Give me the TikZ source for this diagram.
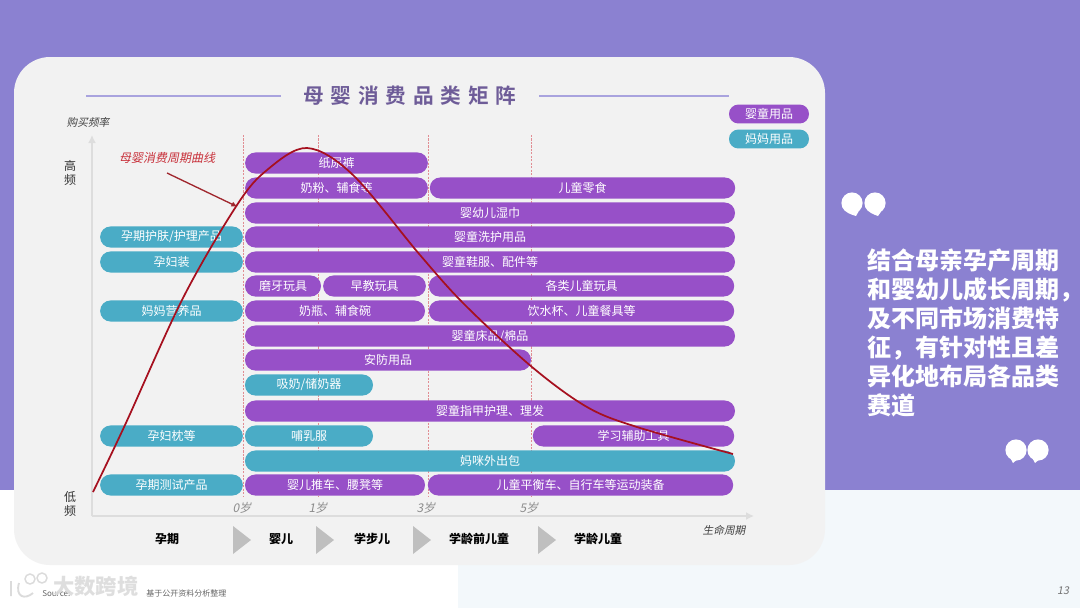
\documentclass[tikz,border=0pt]{standalone}
\usepackage{fontspec}
\usetikzlibrary{arrows.meta}
\setmainfont{Noto Sans CJK SC}
\newfontfamily\slantfont[FakeSlant=0.2]{Noto Sans CJK SC}
\newfontfamily\titlefont[LetterSpace=33,BoldFont={* Bold}]{Noto Sans CJK SC}
\definecolor{slidepurple}{HTML}{8B81D1}
\definecolor{slidepale}{HTML}{F3F8FB}
\definecolor{cardgrey}{HTML}{F2F2F2}
\definecolor{babypurple}{HTML}{9750C8}
\definecolor{mumteal}{HTML}{4AACC6}
\definecolor{curvered}{HTML}{A6101F}
\definecolor{labelred}{HTML}{C8303A}
\definecolor{ruleblue}{HTML}{A9A3DE}
\definecolor{titleink}{HTML}{6E5C98}
\definecolor{axisgrey}{HTML}{DDDDDD}
\definecolor{stagegrey}{HTML}{BFBFBF}
\tikzset{
  bar/.style={rounded corners=7.8pt,draw=none,text=white,font=\fontsize{9}{9}\selectfont,
    minimum height=15.8pt,inner sep=0pt,anchor=center},
  babybar/.style={bar,fill=babypurple},
  mumbar/.style={bar,fill=mumteal},
  keybar/.style={minimum height=14.2pt,rounded corners=7pt},
  agemark/.style={font=\fontsize{9}{9}\selectfont\slantfont,text=black!45},
  axisnote/.style={font=\fontsize{8}{8}\selectfont\slantfont,text=black!75},
  freqmark/.style={font=\fontsize{9}{9}\selectfont,text=black!80},
  stagename/.style={font=\fontsize{9}{9}\selectfont\bfseries,text=black},
  stagearrow/.style={fill=stagegrey,draw=none},
  agerule/.style={dash pattern=on 1.6pt off 1pt,line width=0.6pt,draw=labelred!55},
  axisline/.style={line width=1.5pt,draw=axisgrey,-{Latex[length=6pt,width=6pt]}}
}
% one speech-like quote blob: centre, then tail tip
\newcommand{\quoteblob}[4]{\fill[white] (#1,#2) circle (10.6) (#1+9,#2+4) .. controls (#1+6,#2+9) and (#3+2,#4-3) .. (#3,#4) .. controls (#1-3,#2+11) and (#1-6,#2+9) .. (#1-6,#2+8) -- cycle;}
\begin{document}
\begin{tikzpicture}[x=0.75pt,y=-0.75pt,font=\fontsize{9}{9}\selectfont]
    \useasboundingbox (0,0) rectangle (1080,608);
    % backdrop
    \fill[white] (0,0) rectangle (1080,608);
    \fill[slidepale] (458,490) rectangle (1080,608);
    \fill[slidepurple] (0,0) rectangle (1080,490);
    \fill[cardgrey,rounded corners=27pt] (14,57) rectangle (825,565);
    % title
    \node[font=\fontsize{15.5}{15.5}\selectfont\titlefont\bfseries,text=titleink] (boardtitle) at (410,96) {母婴消费品类矩阵};
    \coordinate (ruleleftA) at (86,96);
    \coordinate (ruleleftB) at (281,96);
    \coordinate (rulerightA) at (539,96);
    \coordinate (rulerightB) at (729,96);
    \draw[ruleblue,line width=1.4pt] (ruleleftA) -- (ruleleftB);
    \draw[ruleblue,line width=1.4pt] (rulerightA) -- (rulerightB);
    % legend
    \node[babybar,keybar,minimum width=60pt] (keybaby) at (769,114) {婴童用品};
    \node[mumbar,keybar,minimum width=60pt] (keymum) at (769,139) {妈妈用品};
    % axes
    \coordinate (origin) at (92,516);
    \coordinate (freqtop) at (92,135);
    \coordinate (lifeend) at (754,516);
    \draw[axisline] (origin) -- (freqtop);
    \draw[axisline] (origin) -- (lifeend);
    \node[axisnote] (freqname) at (88,122) {购买频率};
    \node[axisnote] (lifename) at (724,530) {生命周期};
    \node[freqmark] (highA) at (70,166) {高};
    \node[freqmark] (highB) at (70,180) {频};
    \node[freqmark] (lowA) at (70,497) {低};
    \node[freqmark] (lowB) at (70,511) {频};
    % age rules
    \coordinate (ageAtop) at (243,135);
    \coordinate (ageAend) at (243,497);
    \coordinate (ageBtop) at (318.5,135);
    \coordinate (ageBend) at (318.5,497);
    \coordinate (ageCtop) at (428,135);
    \coordinate (ageCend) at (428,497);
    \coordinate (ageDtop) at (531.5,135);
    \coordinate (ageDend) at (531.5,497);
    \draw[agerule] (ageAtop) -- (ageAend);
    \draw[agerule] (ageBtop) -- (ageBend);
    \draw[agerule] (ageCtop) -- (ageCend);
    \draw[agerule] (ageDtop) -- (ageDend);
    \node[agemark] (ageA) at (242,508) {0岁};
    \node[agemark] (ageB) at (318,508) {1岁};
    \node[agemark] (ageC) at (426,508) {3岁};
    \node[agemark] (ageD) at (529,508) {5岁};
    % mum column
    \node[mumbar,minimum width=107pt] (skincare) at (171.5,237) {孕期护肤/护理产品};
    \node[mumbar,minimum width=107pt] (maternitywear) at (171.5,262) {孕妇装};
    \node[mumbar,minimum width=107pt] (nutrition) at (171.5,311) {妈妈营养品};
    \node[mumbar,minimum width=107pt] (pillow) at (171.5,436) {孕妇枕等};
    \node[mumbar,minimum width=107pt] (testkit) at (171.5,485) {孕期测试产品};
    % baby rows
    \node[babybar,minimum width=137pt] (diapers) at (336.5,163) {纸尿裤};
    \node[babybar,minimum width=137pt] (formula) at (336.5,188) {奶粉、辅食等};
    \node[babybar,minimum width=229pt] (snacks) at (582.5,188) {儿童零食};
    \node[babybar,minimum width=367.5pt] (wipes) at (490,213) {婴幼儿湿巾};
    \node[babybar,minimum width=367.5pt] (washcare) at (490,237) {婴童洗护用品};
    \node[babybar,minimum width=367.5pt] (shoes) at (490,262) {婴童鞋服、配件等};
    \node[babybar,minimum width=57pt] (teether) at (283,286) {磨牙玩具};
    \node[babybar,minimum width=77pt] (earlytoys) at (374.5,286) {早教玩具};
    \node[babybar,minimum width=229pt] (kidtoys) at (581.5,286) {各类儿童玩具};
    \node[babybar,minimum width=135pt] (bottles) at (335,311) {奶瓶、辅食碗};
    \node[babybar,minimum width=229pt] (cups) at (581.5,311) {饮水杯、儿童餐具等};
    \node[babybar,minimum width=367.5pt] (bedding) at (490,336) {婴童床品/棉品};
    \node[babybar,minimum width=214.5pt] (safety) at (388,360) {安防用品};
    \node[mumbar,minimum width=96pt] (pump) at (309,385) {吸奶/储奶器};
    \node[babybar,minimum width=367.5pt] (nails) at (490,411) {婴童指甲护理、理发};
    \node[mumbar,minimum width=96pt] (nursing) at (309,436) {哺乳服};
    \node[babybar,minimum width=151pt] (learning) at (633.5,436) {学习辅助工具};
    \node[mumbar,minimum width=367.5pt] (mumbag) at (490,461) {妈咪外出包};
    \node[babybar,minimum width=135pt] (stroller) at (335,485) {婴儿推车、腰凳等};
    \node[babybar,minimum width=229pt] (balancebike) at (580.5,485) {儿童平衡车、自行车等运动装备};
    % cycle curve
    \draw[curvered,line width=1.3pt] plot[smooth,tension=0.55] coordinates {(93,492) (125,425) (183,298) (237,205) (267,170) (307,148) (353,175) (420,255) (465,305) (532,367) (587,407) (637,427) (733,454)};
    \node[font=\fontsize{9}{9}\selectfont\slantfont,text=labelred] (curvename) at (167,158) {母婴消费周期曲线};
    \coordinate (curvepointA) at (167,173);
    \coordinate (curvepointB) at (238,207);
    \draw[-{Latex[length=5pt,width=4pt]},line width=1pt,labelred!80!black] (curvepointA) -- (curvepointB);
    % stages
    \node[stagename] (pregnancy) at (167,539) {孕期};
    \node[stagename] (infant) at (281,539) {婴儿};
    \node[stagename] (toddler) at (372,539) {学步儿};
    \node[stagename] (preschool) at (479,539) {学龄前儿童};
    \node[stagename] (schoolage) at (598,539) {学龄儿童};
    \fill[stagearrow] (233,526) -- (251,540) -- (233,554) -- cycle;
    \fill[stagearrow] (316,526) -- (334,540) -- (316,554) -- cycle;
    \fill[stagearrow] (413,526) -- (431,540) -- (413,554) -- cycle;
    \fill[stagearrow] (538,526) -- (556,540) -- (538,554) -- cycle;
    % side note
    \quoteblob{852}{203}{856}{216}
    \quoteblob{875}{203}{878}{216}
    \quoteblob{1016}{450}{1013}{463}
    \quoteblob{1038}{450}{1035}{463}
    \node[anchor=north west,inner sep=0pt,text=white,align=left,font=\fontsize{18}{21.8}\selectfont\bfseries] (sidenote) at (867,248.5) {结合母亲孕产周期\\和婴幼儿成长周期\makebox[0.5em][l]{\char"FF0C\relax}\\及不同市场消费特\\征\char"FF0C\relax 有针对性且差\\异化地布局各品类\\赛道};
    % footer
    \node[anchor=west,inner sep=0pt,text=black!60,font=\fontsize{6}{6}\selectfont] (sourceline) at (42,593) {Source:\hspace{57pt}基于公开资料分析整理};
    \node[anchor=west,inner sep=0pt,text=black!14,opacity=0.9,font=\fontsize{16}{16}\selectfont\bfseries] (watermark) at (53,586) {大数跨境};
    \draw[black!14,line width=1.4pt] (11,581) -- (11,596) (19,583) .. controls (15,597) and (25,600) .. (33,593);
    \draw[black!14,line width=1.1pt] (30,579) circle (5) (42,578) circle (5);
    \node[font=\fontsize{8}{8}\selectfont\slantfont,text=black!55] (pagenumber) at (1063,591) {13};
  \end{tikzpicture}
\end{document}
